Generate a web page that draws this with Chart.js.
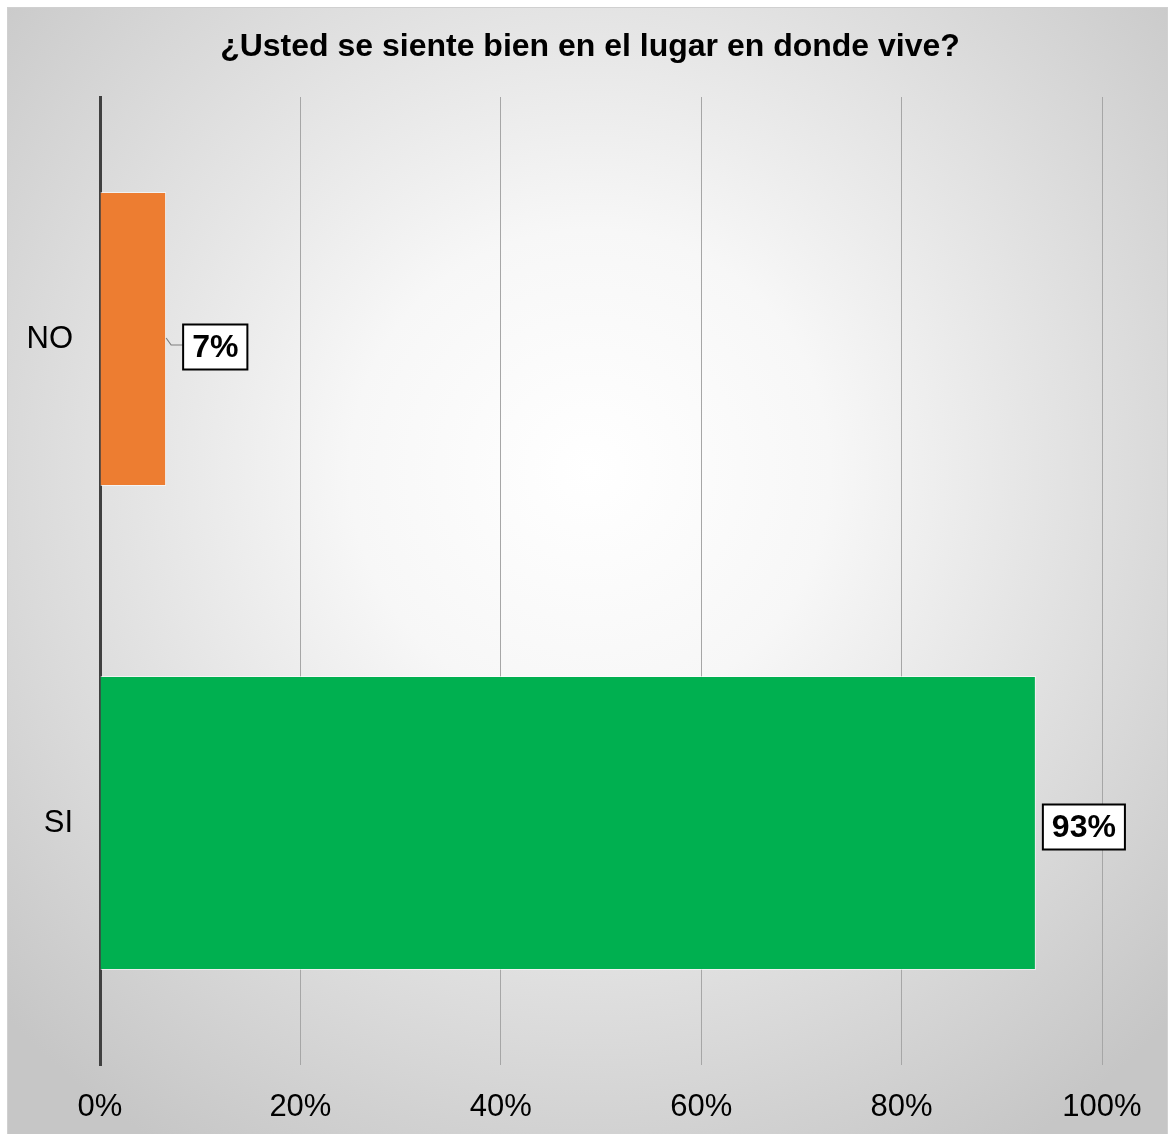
<!DOCTYPE html>
<html>
<head>
<meta charset="utf-8">
<script src="https://cdn.jsdelivr.net/npm/chart.js@4"></script>
<style>
html,body{margin:0;padding:0;background:#fff;}
#wrap{position:relative;width:1169px;height:1134px;}
</style>
</head>
<body>
<div id="wrap"><canvas id="c" width="1169" height="1134"></canvas></div>
<script>
const titleText = '¿Usted se siente bien en el lugar en donde vive?';
const categories = ['NO', 'SI'];
const values = [6.6, 93.4];
const valueLabels = ['7%', '93%'];
const barColors = ['#ED7D31', '#00B050'];
const xTickValues = [0, 20, 40, 60, 80, 100];

const FONT = '"Liberation Sans", Arial, sans-serif';

const bgPlugin = {
  id: 'bg',
  beforeDraw(chart) {
    const ctx = chart.ctx;
    const W = chart.width, H = chart.height;
    ctx.save();
    ctx.fillStyle = '#ffffff';
    ctx.fillRect(0, 0, W, H);
    const g = ctx.createRadialGradient(590, 470, 0, 590, 470, 800);
    g.addColorStop(0, '#ffffff');
    g.addColorStop(0.3, '#f7f7f7');
    g.addColorStop(1, '#c6c6c6');
    ctx.fillStyle = g;
    ctx.fillRect(7, 7, W - 9, H - 7);
    ctx.strokeStyle = '#d0d0d0';
    ctx.lineWidth = 1;
    ctx.strokeRect(7.5, 7.5, W - 9, H);
    // title
    ctx.fillStyle = '#000000';
    ctx.font = 'bold 32px ' + FONT;
    ctx.textAlign = 'center';
    ctx.textBaseline = 'middle';
    ctx.fillText(titleText, 590, 47);
    ctx.restore();
  }
};

const labelPlugin = {
  id: 'valueLabels',
  afterDatasetsDraw(chart) {
    const ctx = chart.ctx;
    const meta = chart.getDatasetMeta(0);
    ctx.save();
    ctx.font = 'bold 32px ' + FONT;
    ctx.textBaseline = 'middle';
    ctx.textAlign = 'center';
    meta.data.forEach((bar, i) => {
      const txt = valueLabels[i];
      const tw = ctx.measureText(txt).width;
      const bw = tw + 18, bh = 45;
      let bx, cy;
      if (i === 0) {
        bx = bar.x + 17; cy = bar.y + 8;
        ctx.strokeStyle = '#7f7f7f';
        ctx.lineWidth = 1.2;
        ctx.beginPath();
        ctx.moveTo(bar.x, bar.y - 1);
        ctx.lineTo(bar.x + 5, cy - 2);
        ctx.lineTo(bx, cy - 2);
        ctx.stroke();
      } else {
        bx = bar.x + 7; cy = bar.y + 4;
      }
      ctx.fillStyle = '#ffffff';
      ctx.fillRect(bx, cy - bh / 2, bw, bh);
      ctx.strokeStyle = '#000000';
      ctx.lineWidth = 2;
      ctx.strokeRect(bx, cy - bh / 2, bw, bh);
      ctx.fillStyle = '#000000';
      ctx.fillText(txt, bx + bw / 2, cy + 1);
    });
    ctx.restore();
  }
};

new Chart(document.getElementById('c'), {
  type: 'bar',
  data: {
    labels: categories,
    datasets: [{
      data: values,
      backgroundColor: barColors,
      borderColor: 'rgba(255,255,255,0.6)',
      borderWidth: 1,
      borderSkipped: 'start',
      barPercentage: 1,
      categoryPercentage: 0.607
    }]
  },
  options: {
    indexAxis: 'y',
    responsive: false,
    animation: false,
    devicePixelRatio: 1,
    layout: { padding: { left: 0, right: 67, top: 97, bottom: 0 } },
    plugins: {
      legend: { display: false },
      tooltip: { enabled: false },
      title: { display: false }
    },
    scales: {
      x: {
        min: 0, max: 100,
        afterBuildTicks(scale) { scale.ticks = xTickValues.map(v => ({ value: v })); },
        afterFit(scale) { scale.height = 69; },
        grid: { color: '#a6a6a6', lineWidth: 1, drawTicks: false },
        border: { display: false },
        ticks: {
          padding: 24,
          color: '#000000',
          font: { family: FONT, size: 31 },
          callback: v => v + '%'
        }
      },
      y: {
        afterFit(scale) { scale.width = 100; },
        grid: { display: false, drawTicks: false },
        border: { display: true, color: '#404040', width: 3 },
        ticks: {
          padding: 27,
          color: '#000000',
          font: { family: FONT, size: 31 }
        }
      }
    }
  },
  plugins: [bgPlugin, labelPlugin]
});
</script>
</body>
</html>
